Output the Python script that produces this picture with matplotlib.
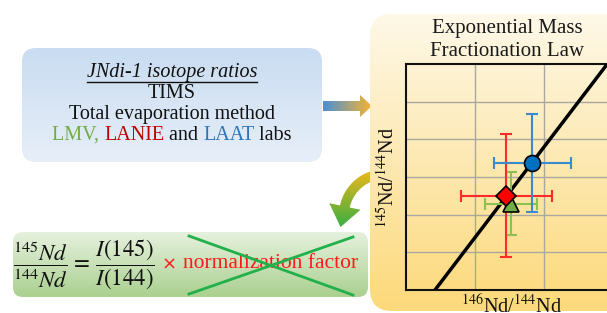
import numpy as np
import matplotlib
matplotlib.use('Agg')
import matplotlib.pyplot as plt
from matplotlib.patches import FancyBboxPatch, FancyArrow, Polygon
from matplotlib.colors import to_rgb

plt.rcParams['font.family'] = ['Liberation Serif', 'DejaVu Serif']
plt.rcParams['mathtext.fontset'] = 'stix'

# data (axis units, grid = 1)
labs = ['LMV', 'LANIE', 'LAAT']
lab_colors = ['#70ad47', '#c00000', '#2e75b6']
ratio_146 = [1.52, 1.45, 1.83]
ratio_145 = [2.29, 2.50, 3.37]
err_146 = [0.38, 0.66, 0.56]
err_145 = [0.83, 1.63, 1.30]
point_markers = ['^', 'D', 'o']
point_faces = ['#70ad47', '#ff0000', '#0070c0']
bar_colors = ['#8cc152', '#ff2a2a', '#3a8ad0']
law_x = [0.42, 3.0]
law_y = [0.0, 6.2]

W, H = 607, 313
fig = plt.figure(figsize=(W / 100, H / 100), dpi=100)
bg = fig.add_axes([0, 0, 1, 1])
bg.axis('off')


def grad_fill(ax, patch, c0, c1, extent, horizontal=False, z=1):
    patch.set_facecolor('none')
    patch.set_edgecolor('none')
    patch.set_zorder(z)
    ax.add_patch(patch)
    t = np.linspace(0, 1, 256)[:, None]
    cols = (1 - t) * np.array(to_rgb(c0)) + t * np.array(to_rgb(c1))
    img = cols[None, :, :] if horizontal else cols[:, None, :]
    im = ax.imshow(img, extent=extent, aspect='auto', origin='upper', zorder=z,
                   interpolation='bilinear')
    im.set_clip_path(patch)


# curved arrow (behind the yellow panel)
C = (385, 215)
ang = np.radians(np.linspace(95, 168, 40))
outer = [(C[0] + 46 * np.cos(a), C[1] - 46 * np.sin(a)) for a in ang]
inner = [(C[0] + 36 * np.cos(a), C[1] - 36 * np.sin(a)) for a in ang[::-1]]
a1 = ang[-1]
d = np.array([-np.sin(a1), -np.cos(a1)])
pend = np.array([C[0] + 41 * np.cos(a1), C[1] - 41 * np.sin(a1)])
tip = pend + 21 * d
head = [(C[0] + 57 * np.cos(a1), C[1] - 57 * np.sin(a1)), tuple(tip),
        (C[0] + 25 * np.cos(a1), C[1] - 25 * np.sin(a1))]
curve = Polygon(outer + head + inner, closed=True)
grad_fill(bg, curve, '#f6b81a', '#2fae45', (320, 400, 230, 168), z=1)

# horizontal arrow
harrow = FancyArrow(323, 106, 49, 0, width=10, head_width=22, head_length=12,
                    length_includes_head=True)
grad_fill(bg, harrow, '#4a8fd6', '#f7b431', (323, 372, 120, 92), horizontal=True, z=2)

# yellow panel
panel = FancyBboxPatch((370, 14), 280, 297, boxstyle='round,pad=0,rounding_size=22')
grad_fill(bg, panel, '#fef8e8', '#fcd97a', (370, 650, 311, 14), z=3)

# blue box
bbox_blue = FancyBboxPatch((22, 48), 300, 114, boxstyle='round,pad=0,rounding_size=14')
grad_fill(bg, bbox_blue, '#c9dcf1', '#e7eff9', (22, 322, 162, 48), z=3)

# green box
bbox_green = FancyBboxPatch((13, 232), 355, 65, boxstyle='round,pad=0,rounding_size=10')
grad_fill(bg, bbox_green, '#e6f1de', '#aad08f', (13, 368, 297, 232), z=3)

bg.set_xlim(0, W)
bg.set_ylim(H, 0)

fs = 14.5
# blue box text
t1 = bg.text(172, 73, 'JNdi-1 isotope ratios', style='italic', fontsize=fs,
             ha='center', va='center', zorder=5, color='#111111')
bg.text(172, 93, 'TIMS', fontsize=fs, ha='center', va='center', zorder=5, color='#111111')
bg.text(172, 114, 'Total evaporation method', fontsize=fs, ha='center', va='center',
        zorder=5, color='#111111')

fig.canvas.draw()
r = fig.canvas.get_renderer()
inv = bg.transData.inverted()
bb = t1.get_window_extent(r)
(ux0, uy0), (ux1, uy1) = inv.transform([[bb.x0, bb.y0], [bb.x1, bb.y0]])
bg.plot([ux0, ux1], [uy0 - 1, uy1 - 1], color='#111111', lw=1, zorder=5)

pieces = [('LMV, ', lab_colors[0]), ('LANIE', lab_colors[1]), (' and ', '#111111'),
          ('LAAT', lab_colors[2]), (' labs', '#111111')]
objs = []
for s, c in pieces:
    tt = bg.text(0, 135, s, fontsize=fs, color=c, ha='left', va='center', zorder=5)
    objs.append(tt)
fig.canvas.draw()
widths = [tt.get_window_extent(r).width for tt in objs]
x = 172 - sum(widths) / 2
for tt, w in zip(objs, widths):
    tt.set_x(x)
    x += w

# green box equation
bg.text(13, 264, r'$\dfrac{^{145}Nd}{^{144}Nd}\,=\,\dfrac{I(145)}{I(144)}$', fontsize=16.5,
        ha='left', va='center', zorder=5, color='#111111')
bg.text(169, 265, '\u00d7', fontsize=13, family='DejaVu Sans', color='#ff1a1a',
        ha='center', va='center', zorder=5)
bg.text(183, 264, 'normalization factor', fontsize=15.5, color='#ff1a1a',
        ha='left', va='center', zorder=5)
bg.plot([189, 353], [236, 295], color='#22b04a', lw=2, zorder=6)
bg.plot([189, 353], [294, 237], color='#22b04a', lw=2, zorder=6)

# panel title and labels
bg.text(507, 29, 'Exponential Mass', fontsize=15, ha='center', va='center', zorder=5,
        color='#1a1a1a')
bg.text(507, 52, 'Fractionation Law', fontsize=15, ha='center', va='center', zorder=5,
        color='#1a1a1a')
bg.text(388, 177, r'$^{145}$Nd/$^{144}$Nd', fontsize=14.5, rotation=90, ha='center',
        va='center', zorder=5, color='#111111')
bg.text(512, 295, r'$^{146}$Nd/$^{144}$Nd', fontsize=14.5, ha='center', va='top',
        zorder=5, color='#111111')

# the plot itself
ax = fig.add_axes([406 / W, (H - 290) / H, 207 / W, 226 / H])
ax.set_facecolor('none')
ax.set_xlim(0, 3)
ax.set_ylim(0, 6)
ax.set_xticks([1, 2])
ax.set_yticks([1, 2, 3, 4, 5])
ax.tick_params(length=0, labelbottom=False, labelleft=False)
ax.grid(True, color='#a8a8a0', lw=1)
for sp in ax.spines.values():
    sp.set_linewidth(1.5)
    sp.set_color('#111111')
ax.plot(law_x, law_y, color='black', lw=2.5, zorder=3)
for i in range(len(labs)):
    ax.errorbar(ratio_146[i], ratio_145[i], xerr=err_146[i], yerr=err_145[i],
                fmt='none', ecolor=bar_colors[i], elinewidth=1.5, capsize=4,
                capthick=1.5, zorder=4)
for i in range(len(labs)):
    ms = 10.5 if point_markers[i] == 'D' else 11.5
    ax.plot(ratio_146[i], ratio_145[i], marker=point_markers[i], ms=ms,
            mfc=point_faces[i], mec='black', mew=1.2, ls='none', zorder=5 + i)

fig.savefig('out.png', dpi=100)
